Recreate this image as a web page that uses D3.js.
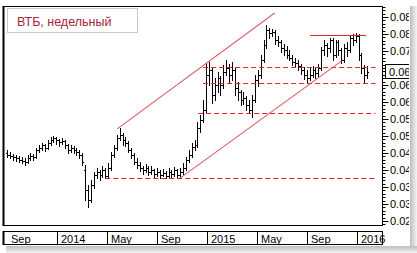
<!DOCTYPE html>
<html><head><meta charset="utf-8">
<script src="https://cdn.jsdelivr.net/npm/d3@7"></script>
<style>body{margin:0;background:#fff} svg{display:block} text{font-family:"Liberation Sans",Arial,sans-serif}</style>
</head><body><svg id="c" width="417" height="253"></svg>
<script>
const title = "ВТБ, недельный";
const firstWeek = new Date(2013, 8, 2);
const openP = [0.0450,0.0444,0.0441,0.0438,0.0435,0.0429,0.0426,0.0424,0.0435,0.0441,0.0438,0.0459,0.0465,0.0474,0.0465,0.0479,0.0488,0.0494,0.0488,0.0482,0.0485,0.0474,0.0459,0.0465,0.0459,0.0453,0.0444,0.0400,0.0341,0.0312,0.0356,0.0385,0.0394,0.0385,0.0400,0.0382,0.0406,0.0444,0.0465,0.0494,0.0503,0.0488,0.0479,0.0459,0.0444,0.0424,0.0415,0.0406,0.0400,0.0406,0.0394,0.0400,0.0388,0.0394,0.0385,0.0391,0.0382,0.0394,0.0388,0.0400,0.0385,0.0394,0.0406,0.0429,0.0444,0.0468,0.0474,0.0524,0.0547,0.0576,0.0679,0.0694,0.0621,0.0650,0.0671,0.0650,0.0688,0.0700,0.0679,0.0694,0.0641,0.0629,0.0606,0.0612,0.0591,0.0576,0.0606,0.0665,0.0679,0.0724,0.0768,0.0812,0.0803,0.0806,0.0782,0.0776,0.0759,0.0753,0.0738,0.0729,0.0718,0.0715,0.0706,0.0694,0.0679,0.0671,0.0679,0.0694,0.0685,0.0700,0.0753,0.0768,0.0759,0.0782,0.0738,0.0776,0.0753,0.0724,0.0759,0.0753,0.0788,0.0782,0.0794,0.0738,0.0700,0.0679];
const highP = [0.0459,0.0453,0.0447,0.0444,0.0441,0.0438,0.0435,0.0444,0.0450,0.0447,0.0465,0.0474,0.0479,0.0476,0.0488,0.0497,0.0500,0.0497,0.0491,0.0494,0.0488,0.0476,0.0474,0.0471,0.0465,0.0459,0.0450,0.0415,0.0356,0.0371,0.0394,0.0406,0.0400,0.0412,0.0406,0.0421,0.0453,0.0474,0.0503,0.0524,0.0509,0.0497,0.0485,0.0465,0.0450,0.0435,0.0424,0.0412,0.0418,0.0412,0.0412,0.0403,0.0406,0.0400,0.0403,0.0397,0.0406,0.0400,0.0409,0.0403,0.0406,0.0421,0.0438,0.0459,0.0479,0.0488,0.0541,0.0562,0.0606,0.0715,0.0718,0.0700,0.0671,0.0688,0.0676,0.0709,0.0724,0.0712,0.0718,0.0700,0.0659,0.0635,0.0629,0.0618,0.0606,0.0621,0.0679,0.0694,0.0738,0.0782,0.0826,0.0818,0.0815,0.0812,0.0794,0.0782,0.0771,0.0765,0.0753,0.0738,0.0729,0.0724,0.0712,0.0703,0.0694,0.0700,0.0706,0.0700,0.0712,0.0762,0.0782,0.0774,0.0788,0.0788,0.0782,0.0782,0.0759,0.0771,0.0776,0.0797,0.0800,0.0803,0.0800,0.0744,0.0709,0.0706];
const lowP = [0.0438,0.0435,0.0429,0.0426,0.0424,0.0421,0.0415,0.0421,0.0429,0.0429,0.0435,0.0453,0.0459,0.0456,0.0462,0.0474,0.0482,0.0476,0.0471,0.0476,0.0465,0.0450,0.0453,0.0450,0.0444,0.0435,0.0415,0.0312,0.0291,0.0306,0.0347,0.0376,0.0371,0.0379,0.0376,0.0379,0.0400,0.0438,0.0459,0.0488,0.0474,0.0471,0.0453,0.0435,0.0418,0.0406,0.0397,0.0388,0.0394,0.0385,0.0388,0.0379,0.0382,0.0376,0.0382,0.0376,0.0379,0.0379,0.0382,0.0376,0.0376,0.0388,0.0400,0.0424,0.0438,0.0459,0.0468,0.0512,0.0541,0.0571,0.0650,0.0597,0.0606,0.0629,0.0621,0.0641,0.0679,0.0659,0.0665,0.0621,0.0606,0.0591,0.0594,0.0576,0.0568,0.0556,0.0600,0.0647,0.0671,0.0718,0.0759,0.0788,0.0794,0.0771,0.0765,0.0747,0.0738,0.0729,0.0724,0.0709,0.0703,0.0694,0.0682,0.0668,0.0656,0.0665,0.0674,0.0671,0.0676,0.0694,0.0738,0.0735,0.0747,0.0724,0.0732,0.0738,0.0715,0.0718,0.0735,0.0747,0.0768,0.0776,0.0724,0.0685,0.0659,0.0671];
const closeP = [0.0444,0.0441,0.0438,0.0435,0.0429,0.0426,0.0424,0.0435,0.0441,0.0438,0.0459,0.0465,0.0474,0.0465,0.0479,0.0488,0.0494,0.0488,0.0482,0.0485,0.0474,0.0459,0.0465,0.0459,0.0453,0.0444,0.0424,0.0341,0.0312,0.0356,0.0385,0.0394,0.0385,0.0400,0.0382,0.0406,0.0444,0.0465,0.0494,0.0503,0.0488,0.0479,0.0459,0.0444,0.0424,0.0415,0.0406,0.0400,0.0406,0.0394,0.0400,0.0388,0.0394,0.0385,0.0391,0.0382,0.0394,0.0388,0.0400,0.0385,0.0394,0.0406,0.0429,0.0444,0.0468,0.0474,0.0524,0.0547,0.0576,0.0679,0.0694,0.0621,0.0650,0.0671,0.0650,0.0688,0.0700,0.0679,0.0694,0.0641,0.0629,0.0606,0.0612,0.0591,0.0576,0.0606,0.0665,0.0679,0.0724,0.0768,0.0812,0.0803,0.0806,0.0782,0.0776,0.0759,0.0753,0.0738,0.0729,0.0718,0.0715,0.0706,0.0694,0.0679,0.0671,0.0679,0.0694,0.0685,0.0700,0.0753,0.0768,0.0759,0.0782,0.0738,0.0776,0.0753,0.0724,0.0759,0.0753,0.0788,0.0782,0.0794,0.0738,0.0700,0.0679,0.0688];

const yTicks = [0.025,0.030,0.035,0.040,0.045,0.050,0.055,0.060,0.065,0.070,0.075,0.080,0.085];
const xTickDates = ["2013-09-01","2014-01-01","2014-05-01","2014-09-01","2015-01-01","2015-05-01","2015-09-01","2016-01-01"];
const xTickLabels = ["Sep","2014","May","Sep","2015","May","Sep","2016"];

// support / resistance levels
const levelValues = [0.0376, 0.0568, 0.0656, 0.0703, 0.0797];
const levelStarts = ["2014-04-28","2014-12-10","2014-12-22","2014-12-22","2015-09-08"];
const levelEnds   = ["2016-02-14","2016-02-14","2016-02-14","2016-02-14","2016-01-22"];
const levelDashed = [true,true,true,true,false];
// trend channel lines
const channelStartDates = ["2014-05-27","2014-10-27"];
const channelStartValues = [0.0521, 0.0376];
const channelEndDates = ["2015-06-14","2015-11-24"];
const channelEndValues = [0.0862, 0.0721];

const svg = d3.select("#c");
const W = 417, H = 253;
const L = 4, R = 382, T = 6, B = 226;
const parse = d3.timeParse("%Y-%m-%d");

const x = d3.scaleTime().domain([new Date(2013,8,1), new Date(2016,2,1)]).range([7, 382]);
const y = d3.scaleLinear().domain([0.02353, 0.08824]).range([B, T]);

const weeks = d3.timeMonday.range(firstWeek, new Date(2016,2,1)).slice(0, closeP.length);
const bars = weeks.map((d,i)=>({d, o:openP[i], h:highP[i], l:lowP[i], c:closeP[i]}));

// shadow
const defs = svg.append("defs");
const gr = defs.append("linearGradient").attr("id","shR").attr("x1",0).attr("x2",1).attr("y1",0).attr("y2",0);
gr.append("stop").attr("offset","0").attr("stop-color","#bdbdbd");
gr.append("stop").attr("offset","1").attr("stop-color","#f4f4f4");
const gb = defs.append("linearGradient").attr("id","shB").attr("x1",0).attr("x2",0).attr("y1",0).attr("y2",1);
gb.append("stop").attr("offset","0").attr("stop-color","#bdbdbd");
gb.append("stop").attr("offset","1").attr("stop-color","#f4f4f4");
svg.append("rect").attr("x",410).attr("y",6).attr("width",7).attr("height",247).attr("fill","url(#shR)");
svg.append("rect").attr("x",6).attr("y",246).attr("width",411).attr("height",7).attr("fill","url(#shB)");

const clip = defs.append("clipPath").attr("id","plotclip");
clip.append("rect").attr("x",L).attr("y",T).attr("width",R-L).attr("height",B-T);
const clipL = defs.append("clipPath").attr("id","labclip");
clipL.append("rect").attr("x",R).attr("y",0).attr("width",409-R).attr("height",H);

// plot frame
svg.append("rect").attr("x",L-0.5).attr("y",T+0.5).attr("width",R-L+1).attr("height",B-T-1)
  .attr("fill","#fff").attr("stroke","#000").attr("stroke-width",1);
svg.append("line").attr("x1",L-0.5).attr("x2",L-0.5).attr("y1",T).attr("y2",B).attr("stroke","#000").attr("stroke-width",2);

const plot = svg.append("g").attr("clip-path","url(#plotclip)");

// title box
svg.append("rect").attr("x",7.5).attr("y",8.5).attr("width",130).attr("height",24)
  .attr("fill","#fff").attr("stroke","#c9c9c9");
svg.append("text").attr("x",17).attr("y",25.5).attr("font-size",12.5).attr("fill","#a3283a").text(title);

// OHLC bars
plot.append("g").selectAll("path").data(bars).join("path")
  .attr("d", b=>{
    const cx = Math.round(x(b.d))+0.5;
    const yo = Math.round(y(b.o))+0.5, yc = Math.round(y(b.c))+0.5;
    return `M${cx},${Math.round(y(b.h))}V${Math.round(y(b.l))+1}M${cx-1.5},${yo}H${cx}M${cx},${yc}H${cx+1.5}`;
  })
  .attr("stroke","#000").attr("stroke-width",1).attr("fill","none");

// levels (drawn over bars, like the reference)
levelValues.forEach((v,i)=>{
  plot.append("line")
    .attr("x1", x(parse(levelStarts[i]))).attr("x2", x(parse(levelEnds[i])))
    .attr("y1", Math.round(y(v))+0.5).attr("y2", Math.round(y(v))+0.5)
    .attr("stroke", "#e0202e")
    .attr("stroke-width",1)
    .attr("stroke-dasharray", levelDashed[i] ? "5,3" : null);
});
channelStartDates.forEach((d,i)=>{
  plot.append("line")
    .attr("x1", x(parse(d))).attr("y1", y(channelStartValues[i]))
    .attr("x2", x(parse(channelEndDates[i]))).attr("y2", y(channelEndValues[i]))
    .attr("stroke","#e05a68").attr("stroke-width",1.1);
});

// y axis
const last = closeP[closeP.length-1];
const ly = Math.round(y(last));
const ya = svg.append("g").attr("transform",`translate(${R+0.5},0)`);
ya.append("line").attr("y1",T).attr("y2",B).attr("stroke","#000");
ya.selectAll("line.minor").data(d3.range(24,89).map(v=>v/1000)).join("line").attr("class","minor")
  .attr("x1",0).attr("x2",3).attr("y1",v=>Math.round(y(v))+0.5).attr("y2",v=>Math.round(y(v))+0.5).attr("stroke","#000");
ya.selectAll("line.major").data(yTicks).join("line").attr("class","major")
  .attr("x1",0).attr("x2",6).attr("y1",v=>Math.round(y(v))+0.5).attr("y2",v=>Math.round(y(v))+0.5).attr("stroke","#000");
const labs = svg.append("g").attr("clip-path","url(#labclip)");
labs.selectAll("text").data(yTicks.filter(v=>Math.abs(y(v)-ly) > 10)).join("text")
  .attr("x",390).attr("y",v=>y(v)+4).attr("font-size",11).attr("fill","#000")
  .text(d3.format(".3f"));
// current price box
labs.append("rect").attr("x",385.5).attr("y",ly-7.5).attr("width",30).attr("height",14)
  .attr("fill","#fff").attr("stroke","#000");
labs.append("text").attr("x",389).attr("y",ly+4).attr("font-size",11).text(d3.format(".3f")(last));

// x axis row
const xr = svg.append("g");
xr.append("rect").attr("x",3.5).attr("y",231.5).attr("width",R-3).attr("height",13)
  .attr("fill","#fff").attr("stroke","#000");
xr.append("line").attr("x1",3.5).attr("x2",3.5).attr("y1",231).attr("y2",245).attr("stroke","#000").attr("stroke-width",2);
xTickDates.forEach((s,i)=>{
  const px = Math.max(Math.round(x(parse(s))), 4);
  if (px > 8) xr.append("line").attr("x1",px+0.5).attr("x2",px+0.5).attr("y1",231).attr("y2",245).attr("stroke","#000");
  xr.append("text").attr("x",Math.max(px,4)+4).attr("y",242.5).attr("font-size",11).text(xTickLabels[i]);
});
</script></body></html>
